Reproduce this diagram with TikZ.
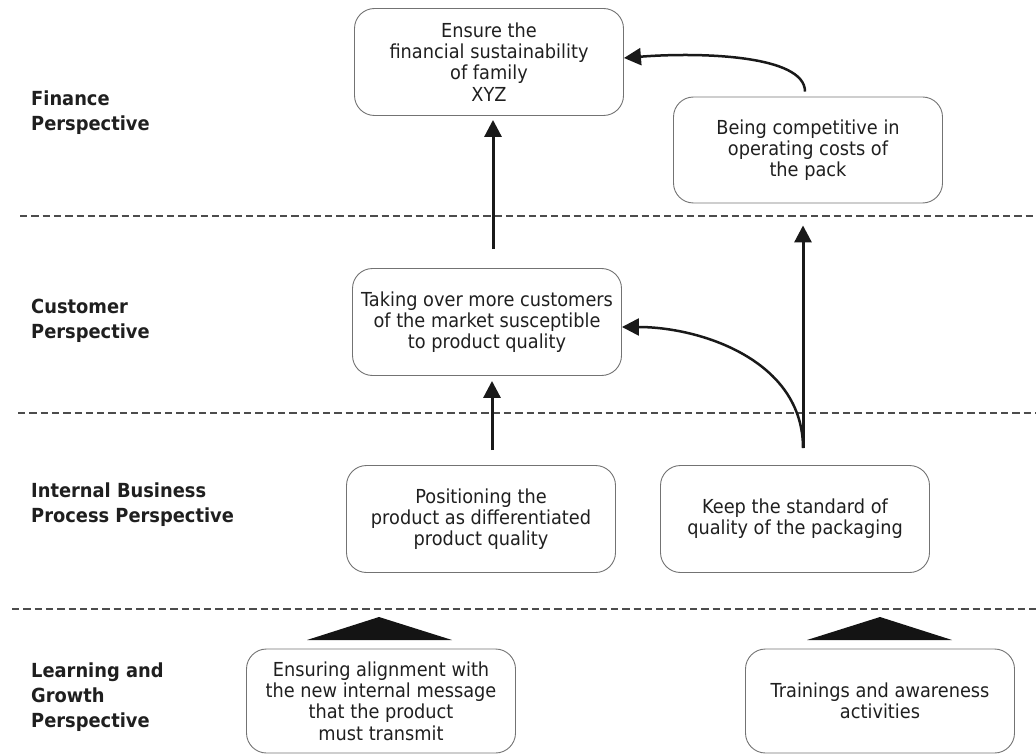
\documentclass[tikz,border=0pt]{standalone}
\usepackage{fontspec}
\setmainfont{DejaVu Sans}[FakeStretch=0.92]
\usetikzlibrary{arrows.meta}
\begin{document}
\begin{tikzpicture}[x=1pt,y=-1pt,
  box/.style={draw=black!55, line width=0.9pt, rounded corners=20pt, minimum width=269pt, minimum height=107pt, align=center, font=\fontsize{19.3}{21.3}\selectfont, text=black!88, inner sep=0pt},
  lbl/.style={anchor=north west, align=left, font=\fontsize{19.4}{25}\selectfont\bfseries, text=black!88, inner sep=0pt},
  sep/.style={draw=black!70, line width=1.3pt, dash pattern=on 7.3pt off 4pt},
  arr/.style={draw=black!90, line width=3pt, -{Triangle[length=17pt,width=17pt]}},
  carr/.style={arr, line width=2.5pt},
  tri/.style={fill=black!92},
]
\useasboundingbox (0,0) rectangle (1036,754);
% separators
\draw[sep] (20,216) -- (1036,216);
\draw[sep] (18,413) -- (1036,413);
\draw[sep] (12,609) -- (1036,609);
% perspective labels
\node[lbl] (lf) at (31,91) {Finance\\Perspective};
\node[lbl] (lc) at (31,299) {Customer\\Perspective};
\node[lbl] (li) at (31,483) {Internal Business\\Process Perspective};
\node[lbl] (ll) at (31,663) {Learning and\\Growth\\Perspective};
% boxes
\node[box] (fin) at (489,62) {Ensure the\\financial sustainability\\of family\\XYZ};
\node[box, minimum height=106pt] (comp) at (808,150) {Being competitive in\\operating costs of\\the pack};
\node[box] (cust) at (487,322) {Taking over more customers\\of the market susceptible\\to product quality};
\node[box] (pos) at (481,519) {Positioning the\\product as differentiated\\product quality};
\node[box] (keep) at (795,519) {Keep the standard of\\quality of the packaging};
\node[box, minimum height=104pt] (align) at (381,701) {Ensuring alignment with\\the new internal message\\that the product\\must transmit};
\node[box, minimum height=104pt] (train) at (880,701) {Trainings and awareness\\activities};
% connectors
\draw[arr] ([xshift=6pt,yshift=19pt]cust.north) -- ([xshift=4pt,yshift=-4pt]fin.south);
\draw[arr] ([xshift=11pt,yshift=15pt]pos.north) -- ([xshift=5pt,yshift=-5pt]cust.south);
\draw[arr] ([xshift=8pt,yshift=17pt]keep.north) -- ([xshift=-5pt,yshift=-22pt]comp.south);
\draw[carr] ([xshift=8pt,yshift=17pt]keep.north) .. controls (803,360) and (700,327) .. ([yshift=-5pt]cust.east);
\draw[carr] ([xshift=-3pt,yshift=5pt]comp.north) .. controls (805,55) and (700,52) .. ([yshift=4pt]fin.east);
% upward triangles
\fill[tri] (307,640) -- (379,617) -- (452,640) -- cycle;
\fill[tri] (807,640) -- (880,617) -- (952,640) -- cycle;
\end{tikzpicture}
\end{document}
